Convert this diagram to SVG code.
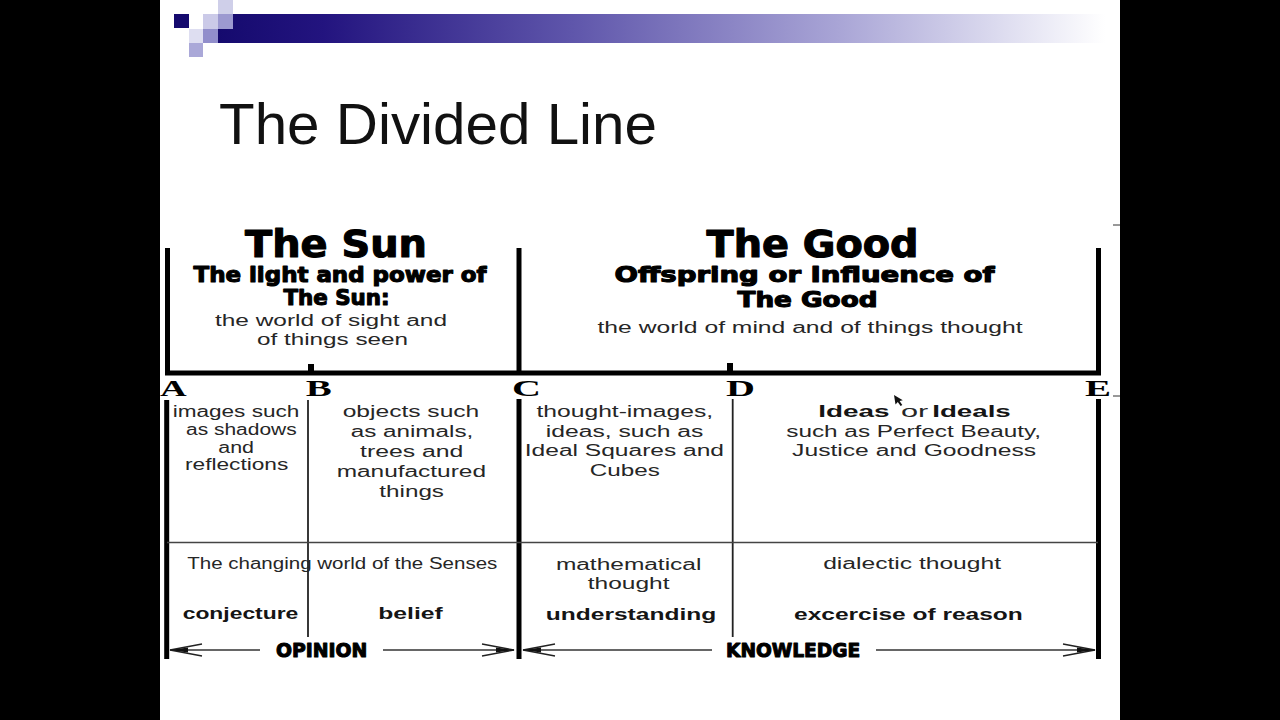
<svg xmlns="http://www.w3.org/2000/svg" width="1280" height="720" viewBox="0 0 1280 720">
  <defs>
    <linearGradient id="barGrad" x1="218" y1="0" x2="1105" y2="0" gradientUnits="userSpaceOnUse">
      <stop offset="0" stop-color="#150a6e"/>
      <stop offset="0.12" stop-color="#23147f"/>
      <stop offset="0.4" stop-color="#5f56ab"/>
      <stop offset="0.7" stop-color="#a9a5d6"/>
      <stop offset="0.88" stop-color="#dcdbef"/>
      <stop offset="1" stop-color="#ffffff"/>
    </linearGradient>
    <marker id="head" markerUnits="userSpaceOnUse" markerWidth="40" markerHeight="16" refX="34" refY="8" orient="auto" overflow="visible">
      <path d="M2,2 L34,8 L2,14" fill="none" stroke="#222" stroke-width="1.3"/>
      <path d="M16,5.5 L34,8 L16,10.5 Z" fill="#111"/>
    </marker>
    <style>
      .heavy { font-family: "DejaVu Sans", "Liberation Sans", sans-serif; font-weight: bold; fill: #000; stroke: #000; stroke-width: 1.1; stroke-linejoin: round; }
      .reg { font-family: "Liberation Sans", Arial, sans-serif; fill: #262626; font-size: 16px; }
      .bold { font-family: "Liberation Sans", Arial, sans-serif; font-weight: bold; fill: #151515; font-size: 16px; }
      .letter { font-family: "Liberation Serif", "Times New Roman", serif; font-weight: bold; fill: #000; font-size: 24px; }
      .thick { stroke: #000; stroke-width: 5; fill: none; }
      .thin { stroke: #222; stroke-width: 1.8; fill: none; }
      .rule { stroke: #444; stroke-width: 1.5; fill: none; }
      .arrow { stroke: #333; stroke-width: 1.4; fill: none; marker-end: url(#head); }
    </style>
  </defs>

  <!-- background -->
  <rect x="0" y="0" width="1280" height="720" fill="#000"/>
  <rect x="160" y="0" width="960" height="720" fill="#fff"/>

  <!-- slide decoration -->
  <g id="decoration">
    <rect x="218" y="14" width="887" height="29" fill="url(#barGrad)"/>
    <rect x="174" y="14" width="15" height="14" fill="#150a6e"/>
    <rect x="218" y="0" width="15" height="14" fill="#cfcfe9"/>
    <rect x="203" y="14" width="15" height="15" fill="#cbcae8"/>
    <rect x="218" y="14" width="15" height="15" fill="#9c99d0"/>
    <rect x="189" y="29" width="14" height="14" fill="#dedef1"/>
    <rect x="203" y="29" width="15" height="14" fill="#918ecb"/>
    <rect x="189" y="43" width="14" height="14" fill="#aaa8d8"/>
    <line x1="1113" y1="225" x2="1120" y2="225" stroke="#333" stroke-width="1"/>
    <line x1="1113" y1="396" x2="1120" y2="396" stroke="#333" stroke-width="1"/>
  </g>

  <!-- title -->
  <g id="title">
    <text x="219" y="144" font-family="Liberation Sans, Arial, sans-serif" font-size="58" fill="#111" textLength="438" lengthAdjust="spacingAndGlyphs">The Divided Line</text>
  </g>

  <!-- header: The Sun -->
  <g id="header-sun">
    <text class="heavy" x="245" y="257" font-size="37" textLength="182" lengthAdjust="spacingAndGlyphs">The Sun</text>
    <text class="heavy" x="193.5" y="281.5" font-size="21" textLength="293" lengthAdjust="spacingAndGlyphs">The light and power of</text>
    <text class="heavy" x="283.5" y="305" font-size="21" textLength="106" lengthAdjust="spacingAndGlyphs">The Sun:</text>
    <text class="reg" x="215" y="326" textLength="232" lengthAdjust="spacingAndGlyphs">the world of sight and</text>
    <text class="reg" x="257" y="345" textLength="151" lengthAdjust="spacingAndGlyphs">of things seen</text>
  </g>

  <!-- header: The Good -->
  <g id="header-good">
    <text class="heavy" x="706.5" y="257" font-size="37" textLength="212" lengthAdjust="spacingAndGlyphs">The Good</text>
    <text class="heavy" x="614.5" y="281.5" font-size="21" textLength="380" lengthAdjust="spacingAndGlyphs">Offspring or Influence of</text>
    <text class="heavy" x="737.5" y="307" font-size="21" textLength="140" lengthAdjust="spacingAndGlyphs">The Good</text>
    <text class="reg" x="597.5" y="333" textLength="425" lengthAdjust="spacingAndGlyphs">the world of mind and of things thought</text>
  </g>

  <!-- the divided line and its divisions -->
  <g id="connectors">
    <line class="thick" x1="167.5" y1="248" x2="167.5" y2="375"/>
    <line class="thick" x1="519" y1="248" x2="519" y2="375"/>
    <line class="thick" x1="1098.5" y1="248" x2="1098.5" y2="375"/>
    <line class="thick" x1="165" y1="373" x2="1101" y2="373"/>
    <line x1="311" y1="364" x2="311" y2="373" stroke="#000" stroke-width="6"/>
    <line x1="730" y1="363" x2="730" y2="373" stroke="#000" stroke-width="6"/>
    <line class="thick" x1="166.7" y1="400" x2="166.7" y2="659"/>
    <line class="thick" x1="519" y1="399" x2="519" y2="659"/>
    <line class="thick" x1="1098.5" y1="399" x2="1098.5" y2="659"/>
    <line class="thin" x1="308" y1="400" x2="308" y2="637"/>
    <line class="thin" x1="732.7" y1="399" x2="732.7" y2="637"/>
    <line class="rule" x1="167" y1="542.5" x2="1098" y2="542.5"/>
    <line class="arrow" x1="260" y1="650" x2="170" y2="650"/>
    <line class="arrow" x1="383" y1="650" x2="514" y2="650"/>
    <line class="arrow" x1="712" y1="650" x2="523" y2="650"/>
    <line class="arrow" x1="876" y1="650" x2="1095" y2="650"/>
  </g>

  <!-- points A-E -->
  <g id="points">
    <text class="letter" x="160" y="396" textLength="26.7" lengthAdjust="spacingAndGlyphs">A</text>
    <text class="letter" x="305.7" y="396" textLength="26" lengthAdjust="spacingAndGlyphs">B</text>
    <text class="letter" x="512" y="396" textLength="29" lengthAdjust="spacingAndGlyphs">C</text>
    <text class="letter" x="726" y="396" textLength="29" lengthAdjust="spacingAndGlyphs">D</text>
    <text class="letter" x="1085" y="396" textLength="26" lengthAdjust="spacingAndGlyphs">E</text>
  </g>

  <!-- cell AB -->
  <g id="cell-ab">
    <text class="reg" x="172.7" y="416.7" textLength="126.6" lengthAdjust="spacingAndGlyphs">images such</text>
    <text class="reg" x="186" y="435" textLength="110.7" lengthAdjust="spacingAndGlyphs">as shadows</text>
    <text class="reg" x="218.3" y="452.7" textLength="35.7" lengthAdjust="spacingAndGlyphs">and</text>
    <text class="reg" x="185" y="470" textLength="103.3" lengthAdjust="spacingAndGlyphs">reflections</text>
  </g>

  <!-- cell BC -->
  <g id="cell-bc">
    <text class="reg" x="342.7" y="416.7" textLength="136.6" lengthAdjust="spacingAndGlyphs">objects such</text>
    <text class="reg" x="350.7" y="436.7" textLength="122.6" lengthAdjust="spacingAndGlyphs">as animals,</text>
    <text class="reg" x="360" y="457.3" textLength="103.3" lengthAdjust="spacingAndGlyphs">trees and</text>
    <text class="reg" x="336.7" y="477.3" textLength="149.3" lengthAdjust="spacingAndGlyphs">manufactured</text>
    <text class="reg" x="379.3" y="496.7" textLength="64.7" lengthAdjust="spacingAndGlyphs">things</text>
  </g>

  <!-- cell CD -->
  <g id="cell-cd">
    <text class="reg" x="536.5" y="416.7" textLength="176.6" lengthAdjust="spacingAndGlyphs">thought-images,</text>
    <text class="reg" x="545.8" y="436.7" textLength="157.6" lengthAdjust="spacingAndGlyphs">ideas, such as</text>
    <text class="reg" x="524.8" y="456" textLength="199.2" lengthAdjust="spacingAndGlyphs">Ideal Squares and</text>
    <text class="reg" x="589.8" y="476" textLength="70" lengthAdjust="spacingAndGlyphs">Cubes</text>
  </g>

  <!-- cell DE -->
  <g id="cell-de">
    <text class="bold" x="818.2" y="416.7" textLength="71.2" lengthAdjust="spacingAndGlyphs">Ideas</text>
    <text class="reg" x="901" y="416.7" textLength="27.3" lengthAdjust="spacingAndGlyphs">or</text>
    <text class="bold" x="932.2" y="416.7" textLength="78.6" lengthAdjust="spacingAndGlyphs">Ideals</text>
    <text class="reg" x="786.3" y="436.7" textLength="254.8" lengthAdjust="spacingAndGlyphs">such as Perfect Beauty,</text>
    <text class="reg" x="792.1" y="456" textLength="244" lengthAdjust="spacingAndGlyphs">Justice and Goodness</text>
    <path d="M894,395 L895.5,404.5 L897.8,402 L900.6,406 L902.3,405 L899.6,401 L902.8,400.3 Z" fill="#111"/>
  </g>

  <!-- lower row: opinion -->
  <g id="opinion">
    <text class="reg" x="187.3" y="569.3" font-size="15" fill="#333" textLength="310" lengthAdjust="spacingAndGlyphs">The changing world of the Senses</text>
    <text class="bold" x="182.7" y="619" textLength="115.6" lengthAdjust="spacingAndGlyphs">conjecture</text>
    <text class="bold" x="378.3" y="619" textLength="64.4" lengthAdjust="spacingAndGlyphs">belief</text>
    <text class="heavy" x="276" y="657.3" font-size="20" textLength="91.3" lengthAdjust="spacingAndGlyphs">OPINION</text>
  </g>

  <!-- lower row: knowledge -->
  <g id="knowledge">
    <text class="reg" x="555.9" y="570" textLength="145.5" lengthAdjust="spacingAndGlyphs">mathematical</text>
    <text class="reg" x="587.8" y="589.3" textLength="81.7" lengthAdjust="spacingAndGlyphs">thought</text>
    <text class="bold" x="545.8" y="620" textLength="170.4" lengthAdjust="spacingAndGlyphs">understanding</text>
    <text class="reg" x="823.2" y="569.3" textLength="177.8" lengthAdjust="spacingAndGlyphs">dialectic thought</text>
    <text class="bold" x="794" y="620" textLength="228.8" lengthAdjust="spacingAndGlyphs">excercise of reason</text>
    <text class="heavy" x="726" y="656.7" font-size="20" textLength="134.2" lengthAdjust="spacingAndGlyphs">KNOWLEDGE</text>
  </g>
</svg>
